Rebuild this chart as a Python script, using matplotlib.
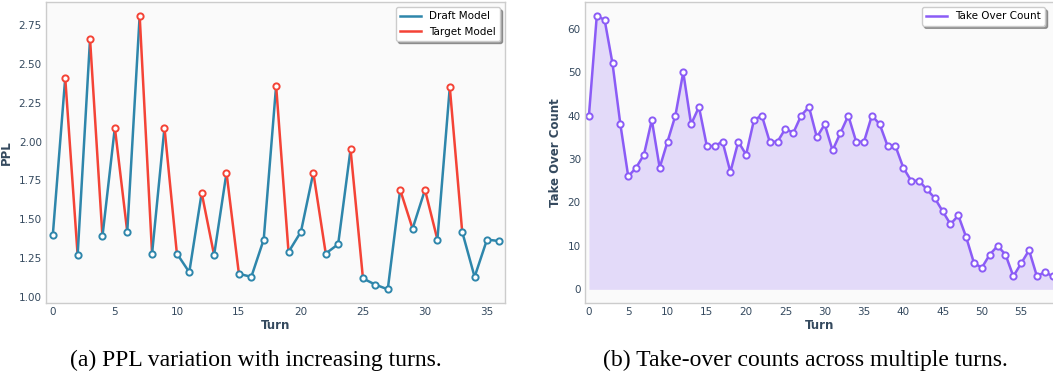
import matplotlib
matplotlib.use("Agg")
import matplotlib.pyplot as plt
from matplotlib.lines import Line2D

# PPL per turn, D = draft model, T = target model
turns_a = list(range(37))
ppl = [1.40, 2.41, 1.27, 2.66, 1.39, 2.09, 1.42, 2.81, 1.28, 2.09,
       1.28, 1.16, 1.67, 1.27, 1.80, 1.15, 1.13, 1.37, 2.36, 1.29,
       1.42, 1.80, 1.28, 1.34, 1.95, 1.12, 1.08, 1.05, 1.69, 1.44,
       1.69, 1.37, 2.35, 1.42, 1.13, 1.37, 1.36]
model = ['D', 'T', 'D', 'T', 'D', 'T', 'D', 'T', 'D', 'T',
         'D', 'D', 'T', 'D', 'T', 'D', 'D', 'D', 'T', 'D',
         'D', 'T', 'D', 'D', 'T', 'D', 'D', 'D', 'T', 'D',
         'T', 'D', 'T', 'D', 'D', 'D', 'D']

# take over count per turn
turns_b = list(range(60))
take_over = [40, 63, 62, 52, 38, 26, 28, 31, 39, 28,
             34, 40, 50, 38, 42, 33, 33, 34, 27, 34,
             31, 39, 40, 34, 34, 37, 36, 40, 42, 35,
             38, 32, 36, 40, 34, 34, 40, 38, 33, 33,
             28, 25, 25, 23, 21, 18, 15, 17, 12, 6,
             5, 8, 10, 8, 3, 6, 9, 3, 4, 3]

captions = ['(a) PPL variation with increasing turns.',
            '(b) Take-over counts across multiple turns.']

BLUE = '#2E86AB'
RED = '#F44336'
PURPLE = '#8B5CF6'
TXT = '#34495E'

plt.rcParams['font.family'] = 'DejaVu Sans'

W, H = 1053, 379
fig = plt.figure(figsize=(W / 100, H / 100), dpi=100)
ax1 = fig.add_axes([46 / W, 1 - 303 / H, (505 - 46) / W, 301 / H])
ax2 = fig.add_axes([585 / W, 1 - 303 / H, (1055 - 585) / W, 301 / H])

for ax in (ax1, ax2):
    ax.set_facecolor('#FAFAFA')
    for s in ax.spines.values():
        s.set_color('#CCCCCC')
        s.set_linewidth(1.0)
    ax.tick_params(length=0, labelsize=7.5, labelcolor=TXT, pad=3)

# (a) segments colored by the model at the start of the segment
for i in range(len(turns_a) - 1):
    c = RED if model[i] == 'T' else BLUE
    ax1.plot(turns_a[i:i + 2], ppl[i:i + 2], color=c, lw=1.8, zorder=2)
for i in range(len(turns_a)):
    c = RED if model[i] == 'T' else BLUE
    ax1.plot(turns_a[i], ppl[i], 'o', ms=4.5, mfc='white', mec=c, mew=1.4, zorder=3)
h1 = [Line2D([], [], color=BLUE, lw=1.8), Line2D([], [], color=RED, lw=1.8)]
ax1.set_xlim(-0.55, 36.45)
ax1.margins(y=0.05)
ax1.set_xticks(range(0, 36, 5))
ax1.set_yticks([1.0, 1.25, 1.5, 1.75, 2.0, 2.25, 2.5, 2.75])
ax1.set_xlabel('Turn', fontsize=8.5, fontweight='bold', color=TXT, labelpad=1)
ax1.set_ylabel('PPL', fontsize=8.5, fontweight='bold', color=TXT, labelpad=4)
ax1.legend(h1, ['Draft Model', 'Target Model'], loc='upper right', fontsize=7.5,
           frameon=True, shadow=True, fancybox=True, framealpha=1, edgecolor='#CCCCCC')

# (b)
ax2.fill_between(turns_b, take_over, 0, color=PURPLE, alpha=0.2, lw=0)
ax2.plot(turns_b, take_over, color=PURPLE, lw=1.8, marker='o', ms=4.5,
         mfc='white', mec=PURPLE, mew=1.4)
ax2.set_xlim(-0.5, 59.3)
ax2.set_ylim(-3.15, 66.15)
ax2.set_xticks(range(0, 60, 5))
ax2.set_yticks(range(0, 61, 10))
ax2.set_xlabel('Turn', fontsize=8.5, fontweight='bold', color=TXT, labelpad=1)
ax2.set_ylabel('Take Over Count', fontsize=8.5, fontweight='bold', color=TXT, labelpad=4)
ax2.legend([Line2D([], [], color=PURPLE, lw=1.8)], ['Take Over Count'],
           loc='upper right', fontsize=7.5, frameon=True, shadow=True,
           fancybox=True, framealpha=1, edgecolor='#CCCCCC',
           bbox_to_anchor=(1.0 - 5 / 470, 1.0))

fig.text(256 / W, 1 - 360 / H, captions[0], ha='center', va='center',
         fontsize=17, family='Liberation Serif')
fig.text(805 / W, 1 - 360 / H, captions[1], ha='center', va='center',
         fontsize=17, family='Liberation Serif')

fig.savefig('out.png', dpi=100)
